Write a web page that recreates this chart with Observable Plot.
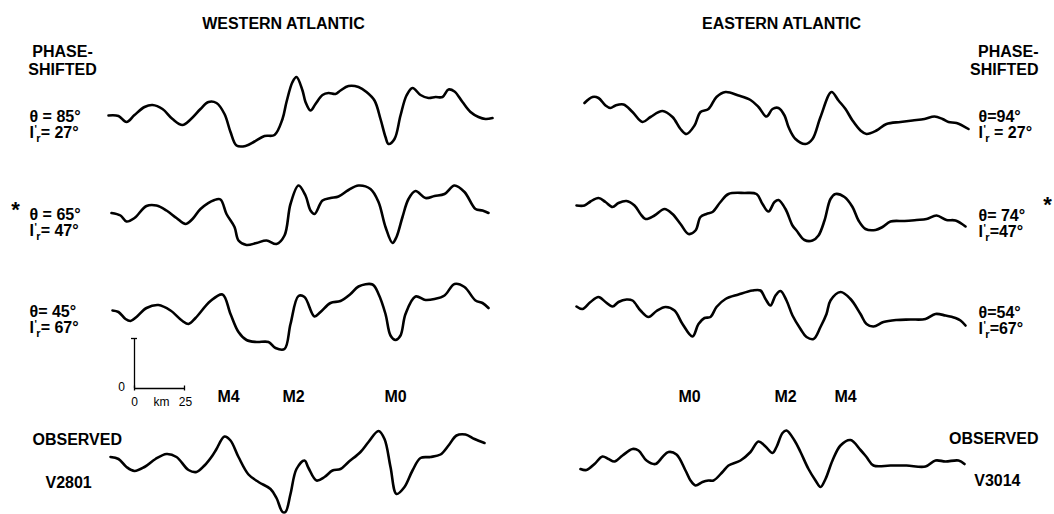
<!DOCTYPE html>
<html>
<head>
<meta charset="utf-8">
<script src="https://cdn.jsdelivr.net/npm/d3@7"></script>
<script src="https://cdn.jsdelivr.net/npm/@observablehq/plot@0.6"></script>
<style>
  html, body { margin: 0; padding: 0; background: #fff; }
  #chart svg { display: block; }
</style>
</head>
<body>
<div id="chart"></div>
<script>
// ---------- DATA: [distance along profile (km), anomaly (relative units)] ----------
const w85 = [[0,0],[5,-1],[9,-13],[13,1],[18,17],[22,21],[27,13],[32,-7],[37,-19],[41,-8],[46,13],[50,27],[54,25],[58,3],[61,-33],[64,-60],[68.5,-61],[73,-52],[78,-41],[83,-39],[87,-7],[89,27],[92,67],[94,77],[97,50],[98.5,27],[101,10],[103.5,23],[107,41],[110,45],[113.5,43],[116,50],[120,59],[125,57],[129,47],[133,30],[136,-7],[138.5,-43],[140,-57],[143,-47],[146,0],[149,40],[152,55],[156,41],[160,35],[163.5,37],[167,37],[170,52],[173,48],[177,27],[181,7],[185,-3],[188.5,-7],[192,-5]];
const w65 = [[1.5,1],[6,-4],[9,-16],[13,-9],[19,15],[24,16],[29,6],[34,-9],[38.5,-21],[42,-11],[46,9],[53,27],[56,28],[59,-1],[63,-27],[65,-54],[69,-63],[74,-59],[79,-54],[84,-61],[88,-44],[91,19],[95,56],[98.5,36],[101,6],[103,-1],[107,26],[111,31],[115,34],[120,47],[125,56],[131,49],[135,23],[138.5,-27],[142,-59],[144,-47],[147,-7],[150,29],[153.5,45],[158.5,31],[163,35],[168,39],[173,56],[178,43],[183.5,9],[187,6],[190,1]];
const w45 = [[2,0],[5,-3],[8.5,-17],[11,-21],[14,-13],[19,5],[25,11],[31,0],[37,-21],[40,-27],[43.5,-15],[51,19],[57,32],[61,-7],[65,-43],[69,-59],[74,-63],[80,-63],[83.5,-75],[88,-77],[91,-27],[95,29],[98,27],[103,-12],[106,-3],[111,15],[116,19],[121,33],[125,48],[132,52],[135,33],[138.5,-7],[141,-50],[143.5,-59],[146,-50],[148.5,-7],[153.5,28],[158.5,21],[163,23],[168,30],[173,53],[178,47],[183.5,20],[187,15],[190,5]];
const wObs = [[1,7],[5,3],[9,-13],[13,-21],[18,-13],[23.5,3],[29,13],[34,7],[40,-19],[44,-23],[48,-10],[52,10],[54,23],[58,48],[61,40],[65,7],[70,-28],[75,-43],[81,-57],[84,-75],[87,-103],[88.5,-103],[91,-67],[94,-17],[98,0],[100,-15],[104,-40],[108,-33],[112,-20],[116,-17],[120,-3],[126,17],[130,37],[135,59],[138,43],[141,-13],[144,-67],[148,-53],[152,-20],[156,5],[161,7],[166,12],[170,30],[174,50],[178.5,52],[183,43],[188,35]];
const e94 = [[4,25],[8,37],[11,35],[14.5,20],[17,15],[19.5,20],[23.5,22],[28,7],[33,-13],[37,-3],[43,9],[48,-3],[52,-27],[55,-37],[59,-20],[62,7],[66,13],[70,37],[74.5,47],[81,40],[87,31],[91,17],[95,-2],[98,13],[101,15],[104,0],[106,-23],[109.5,-47],[114.5,-57],[118,-47],[122,-3],[127.5,47],[131,30],[134.5,13],[138,-10],[142,-30],[145,-37],[150,-30],[155,-17],[162,-13],[168,-10],[174,-7],[179,-2],[183,-7],[186,-13],[190,-15],[196,-27]];
const e74 = [[0,16],[4,16],[7,24],[11,31],[14.5,23],[18,13],[21,21],[25,25],[29,16],[32,-1],[34.5,-11],[39,-4],[44,9],[48,-1],[52,-21],[56,-41],[59.5,-34],[62,-7],[65,-1],[68,3],[72,23],[76,39],[84,41],[90,39],[93,19],[96,4],[99,23],[101,27],[104.5,9],[108,-24],[110,-34],[114,-53],[118,-54],[121,-44],[124,-14],[127,29],[129.5,39],[134,33],[138,13],[141,-14],[144.5,-31],[149.5,-33],[153,-27],[157,-16],[164,-15],[170,-13],[175,-11],[180,-4],[185,-13],[189.5,-14],[194.5,-26]];
const e54 = [[0,8],[3,3],[7,17],[11,27],[14.5,17],[18,8],[21,17],[25,22],[28,20],[32,0],[36,-13],[40,-1],[44.5,7],[49,0],[53,-27],[58,-52],[61,-27],[64,-15],[67,-13],[70,7],[74.5,23],[81,32],[88,40],[92,40],[94.5,23],[97,10],[99.5,30],[102,39],[105,20],[108,-10],[112,-37],[115,-53],[118.5,-57],[122,-33],[125,-7],[127,20],[132,37],[137,23],[142,-7],[145,-27],[148.5,-32],[153.5,-23],[160,-19],[167,-18],[174.5,-17],[179.5,-7],[184.5,-10],[189.5,-15],[192,-20],[194.5,-30]];
const eObs = [[2,-17],[5,-19],[9,-7],[13,8],[16,3],[19,-2],[23,10],[28,23],[31,20],[35,0],[39.5,-7],[43,7],[46,17],[50,12],[54.5,-20],[57,-40],[59.5,-50],[63,-43],[66,-40],[68.5,-40],[73,-23],[76,-10],[82,0],[87,17],[91,38],[94.5,28],[98,15],[100,27],[103,55],[105,60],[109,40],[112,17],[116,-17],[119.5,-40],[122,-53],[124.5,-37],[128,0],[132,30],[137,41],[142,21],[145,7],[148.5,-10],[157,-10],[165,-10],[174.5,-12],[179.5,0],[184.5,-2],[191,0],[194,-7]];

const titles = ["WESTERN ATLANTIC", "EASTERN ATLANTIC"];
const westTheta = ["θ = 85°", "θ = 65°", "θ= 45°"];
const westIr = ["I'r= 27°", "I'r= 47°", "I'r= 67°"];
const eastTheta = ["θ=94°", "θ= 74°", "θ=54°"];
const eastIr = ["I'r = 27°", "I'r=47°", "I'r=67°"];
const westAnomalies = ["M4", "M2", "M0"];
const eastAnomalies = ["M0", "M2", "M4"];
const profileNames = ["V2801", "V3014"];
const scaleKm = [0, 25];
const scaleAmp = [0, 100];
const scaleTickLabels = ["0", "km", "25"];

// ---------- LAYOUT ----------
const X = px => px / 2 - 54;      // page pixel -> km coordinate
const Y = py => -2 * py;          // page pixel -> amplitude coordinate
const rowBase = [115, 213, 310, 460];
const sideOff = [0, 234];
const profiles = [
  {id: "w85", d: w85, side: 0, row: 0}, {id: "w65", d: w65, side: 0, row: 1},
  {id: "w45", d: w45, side: 0, row: 2}, {id: "wObs", d: wObs, side: 0, row: 3},
  {id: "e94", d: e94, side: 1, row: 0}, {id: "e74", d: e74, side: 1, row: 1},
  {id: "e54", d: e54, side: 1, row: 2}, {id: "eObs", d: eObs, side: 1, row: 3}
];
const table = profiles.flatMap(p => p.d.map(([km, a]) => ({id: p.id, x: km + sideOff[p.side], y: a + Y(rowBase[p.row])})));

const bold = {fontSize: 16, fontWeight: "bold"};
const txt = (items, opts = {}) => Plot.text(items, {x: d => X(d.px), y: d => Y(d.py), text: d => d.t, ...bold, ...opts});

const sbX = X(134), sbY = Y(388);

const plot = Plot.plot({
  width: 1054, height: 514, margin: 0,
  style: {fontFamily: "'Liberation Sans', Arial, sans-serif", background: "#fff", color: "#000"},
  x: {domain: [-54, 473], axis: null},
  y: {domain: [-1028, 0], axis: null},
  marks: [
    Plot.line(table, {x: "x", y: "y", z: "id", curve: "catmull-rom", stroke: "#000", strokeWidth: 2.6, strokeLinejoin: "round", strokeLinecap: "round"}),
    // scale bar
    Plot.ruleX([sbX + scaleKm[0]], {y1: sbY + scaleAmp[0], y2: sbY + scaleAmp[1], stroke: "#000", strokeWidth: 1.3}),
    Plot.ruleY([sbY + scaleAmp[0]], {x1: sbX + scaleKm[0], x2: sbX + scaleKm[1], stroke: "#000", strokeWidth: 1.3}),
    Plot.ruleY([sbY + scaleAmp[1]], {x1: sbX - 1.5, x2: sbX + 1.5, stroke: "#000", strokeWidth: 1.3}),
    Plot.ruleX(scaleKm.map(k => sbX + k), {y1: sbY - 5, y2: sbY + 5, stroke: "#000", strokeWidth: 1.3}),
    Plot.text([{t: "0", px: 121, py: 387}], {x: d => X(d.px), y: d => Y(d.py), text: d => d.t, fontSize: 12}),
    Plot.text(scaleTickLabels.map((t, i) => ({t, px: [134, 161, 185][i], py: 402})), {x: d => X(d.px), y: d => Y(d.py), text: d => d.t, fontSize: 12}),
    // titles
    txt(titles.map((t, i) => ({t, px: [283, 781][i], py: 23}))),
    txt([{t: "PHASE-", px: 62, py: 51}, {t: "SHIFTED", px: 62, py: 69}]),
    txt([{t: "PHASE-", px: 1038, py: 51}, {t: "SHIFTED", px: 1038, py: 69}], {textAnchor: "end"}),
    // parameter labels
    txt(westTheta.map((t, i) => ({t, px: 29, py: [116, 214, 311][i]})), {textAnchor: "start"}),
    txt(westIr.map((t, i) => ({t, px: 29, py: [132, 230, 327][i]})), {textAnchor: "start"}),
    txt(eastTheta.map((t, i) => ({t, px: 978, py: [116, 215, 312][i]})), {textAnchor: "start"}),
    txt(eastIr.map((t, i) => ({t, px: 978, py: [132, 231, 328][i]})), {textAnchor: "start"}),
    txt([{t: "*", px: 15, py: 209}, {t: "*", px: 1047, py: 204}], {fontSize: 22}),
    // anomaly names
    txt(westAnomalies.map((t, i) => ({t, px: [228, 293, 395][i], py: 396}))),
    txt(eastAnomalies.map((t, i) => ({t, px: [689, 785, 845][i], py: 396}))),
    // observed
    txt([{t: "OBSERVED", px: 32, py: 439}, {t: profileNames[0], px: 45, py: 482}], {textAnchor: "start"}),
    txt([{t: "OBSERVED", px: 1038, py: 438}, {t: profileNames[1], px: 1020, py: 480}], {textAnchor: "end"})
  ]
});

// render I'r as I with a prime superscript and an r subscript
d3.select(plot).selectAll("text").each(function() {
  const t = this.textContent;
  if (t.startsWith("I'r")) {
    const rest = t.slice(3);
    const s = d3.select(this);
    s.text(null);
    s.append("tspan").text("I");
    s.append("tspan").attr("font-size", 10).attr("dy", -5).attr("dx", 0.5).text("'");
    s.append("tspan").attr("font-size", 11).attr("dy", 9).attr("dx", -0.5).text("r");
    s.append("tspan").attr("dy", -4).text(rest);
  }
});

document.getElementById("chart").append(plot);
</script>
</body>
</html>
